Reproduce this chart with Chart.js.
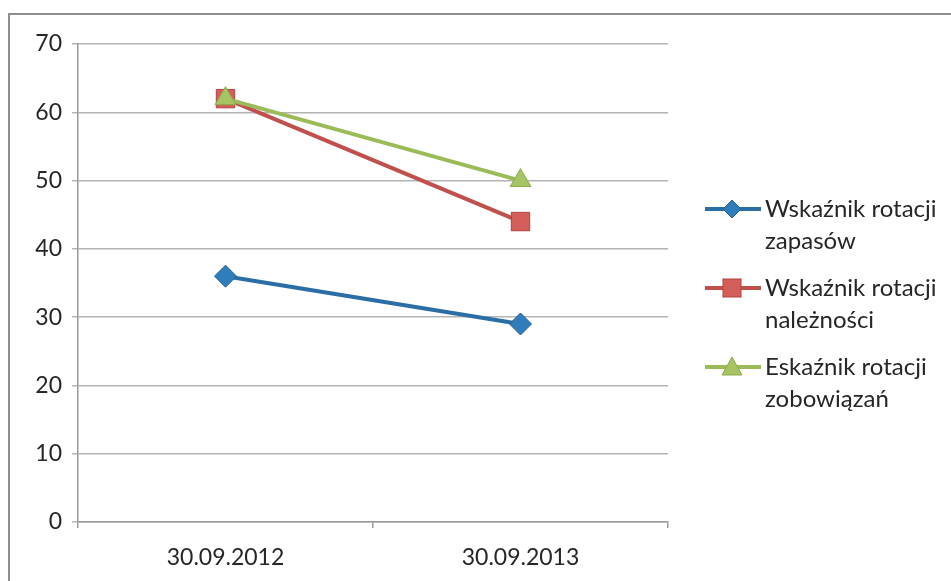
<!DOCTYPE html>
<html lang="pl">
<head>
<meta charset="utf-8">
<title>Wskaźniki rotacji</title>
<script src="https://cdn.jsdelivr.net/npm/chart.js@4/dist/chart.umd.min.js"></script>
<style>
  html, body { margin: 0; padding: 0; background: #fff; }
  body { width: 951px; height: 581px; position: relative; overflow: hidden; }
  #frame {
    position: absolute; left: 8px; top: 13px; width: 1000px; height: 700px;
    border-left: 2px solid #8e8e8e; border-top: 2px solid #8e8e8e;
  }
  #wrap { position: absolute; left: 0; top: 0; width: 951px; height: 581px; }
  #legend {
    position: absolute; left: 705px; top: 192px;
    font-family: Lato, "Open Sans", sans-serif; font-size: 24px; color: #262626;
  }
  .item { position: relative; padding-left: 60px; line-height: 32px; margin-bottom: 15px; white-space: nowrap; }
  .item svg { position: absolute; left: 0; top: -5px; }
</style>
</head>
<body>
<div id="frame"></div>
<div id="wrap"><canvas id="c" width="951" height="581"></canvas></div>
<div id="legend"></div>
<script>
const categories = ['30.09.2012', '30.09.2013'];
const seriesNames = [
  ['Wskaźnik rotacji', 'zapasów'],
  ['Wskaźnik rotacji', 'należności'],
  ['Eskaźnik rotacji', 'zobowiązań']
];
const inventoryTurnover = [36, 29];
const receivablesTurnover = [62, 44];
const liabilitiesTurnover = [62, 50];
const yTicks = [0, 10, 20, 30, 40, 50, 60, 70];

const styles = [
  { line: '#2b6ea6', fill: '#2f7dbb', border: '#1f5f93', shape: 'rectRot', radius: 11 },
  { line: '#c0504d', fill: '#d45e59', border: '#b2423f', shape: 'rect', radius: 13 },
  { line: '#9bbb59', fill: '#a6c463', border: '#8aab4b', shape: 'triangle', radius: 12 }
];
const values = [inventoryTurnover, receivablesTurnover, liabilitiesTurnover];

const datasets = values.map((v, i) => ({
  label: seriesNames[i].join(' '),
  data: v,
  order: values.length - 1 - i,
  borderColor: styles[i].line,
  backgroundColor: styles[i].fill,
  pointBackgroundColor: styles[i].fill,
  pointBorderColor: styles[i].border,
  pointBorderWidth: 1,
  pointStyle: styles[i].shape,
  pointRadius: styles[i].radius,
  pointHoverRadius: styles[i].radius,
  borderWidth: 4,
  tension: 0
}));

const font = { family: 'Lato, "Open Sans", sans-serif', size: 23 };

new Chart(document.getElementById('c'), {
  type: 'line',
  data: { labels: categories, datasets },
  options: {
    responsive: false,
    animation: false,
    layout: { padding: { left: 0, right: 283, top: 44, bottom: 0 } },
    plugins: { legend: { display: false }, tooltip: { enabled: false } },
    scales: {
      x: {
        offset: true,
        grid: { display: true, drawOnChartArea: false, drawTicks: true, tickLength: 6, color: '#9a9a9a', lineWidth: 1.5, offset: true },
        border: { display: true, color: '#9a9a9a', width: 1.5 },
        ticks: { font, color: '#262626', padding: 16, maxRotation: 0 },
        afterFit: s => { s.height = 59; }
      },
      y: {
        min: 0, max: 70,
        afterBuildTicks: s => { s.ticks = yTicks.map(v => ({ value: v })); },
        grid: { color: '#b4b4b4', lineWidth: 1.5, tickLength: 6 },
        border: { display: true, color: '#9a9a9a', width: 1.5 },
        ticks: { font, color: '#262626', padding: 10 },
        afterFit: s => { s.width = 78; }
      }
    }
  }
});

// legend built from the same series styles
const legend = document.getElementById('legend');
seriesNames.forEach((name, i) => {
  const st = styles[i];
  let marker;
  if (st.shape === 'rectRot') {
    marker = `<polygon points="27,13 36,22 27,31 18,22" fill="${st.fill}" stroke="${st.border}"/>`;
  } else if (st.shape === 'rect') {
    marker = `<rect x="18" y="13" width="18" height="18" fill="${st.fill}" stroke="${st.border}"/>`;
  } else {
    marker = `<polygon points="27,12 37,30 17,30" fill="${st.fill}" stroke="${st.border}"/>`;
  }
  const div = document.createElement('div');
  div.className = 'item';
  div.innerHTML = `<svg width="56" height="44"><line x1="0" y1="22" x2="56" y2="22" stroke="${st.line}" stroke-width="4"/>${marker}</svg>` +
    name.join('<br>');
  legend.appendChild(div);
});
</script>
</body>
</html>
